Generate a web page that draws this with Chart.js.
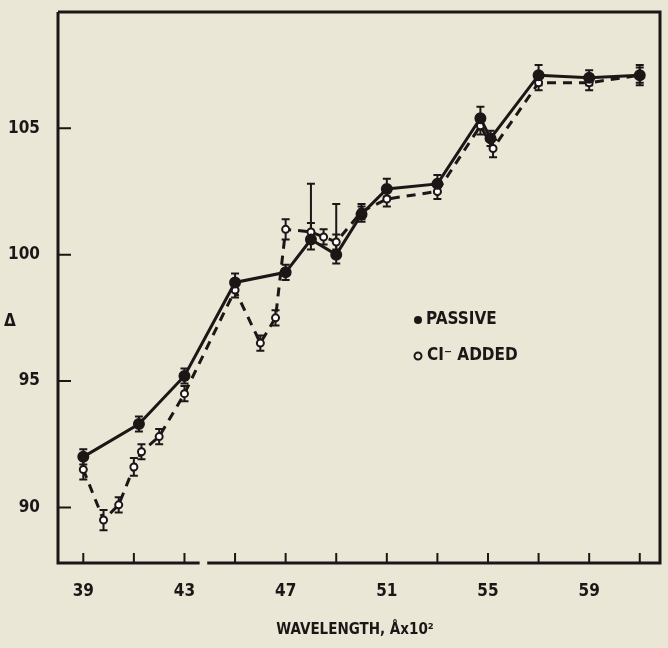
<!DOCTYPE html>
<html>
<head>
<meta charset="utf-8">
<script src="https://cdn.jsdelivr.net/npm/chart.js@4.4.1/dist/chart.umd.min.js"></script>
<style>
  html, body { margin: 0; padding: 0; background: #ebe7d6; }
  #wrap { width: 668px; height: 648px; }
</style>
</head>
<body>
<div id="wrap"><canvas id="grafico"></canvas></div>
<script>
// datos
const passiveX = [39, 41.2, 43, 45, 47, 48, 49, 50, 51, 53, 54.7, 55.1, 57, 59, 61];
const passiveY = [92.0, 93.3, 95.2, 98.9, 99.3, 100.6, 100.0, 101.6, 102.6, 102.8, 105.4, 104.6, 107.1, 107.0, 107.1];
const passiveErrUp = [0.3, 0.3, 0.3, 0.35, 0.3, 2.2, 2.0, 0.3, 0.4, 0.35, 0.45, 0.3, 0.4, 0.3, 0.4];
const passiveErrDown = [0.3, 0.3, 0.3, 0.35, 0.3, 0.4, 0.35, 0.3, 0.3, 0.35, 0.45, 0.3, 0.4, 0.3, 0.4];

const addedX = [39, 39.8, 40.4, 41, 41.3, 42, 43, 45, 46, 46.6, 47, 48, 48.5, 49, 50, 51, 53, 54.7, 55.2, 57, 59, 61];
const addedY = [91.5, 89.5, 90.1, 91.6, 92.2, 92.8, 94.5, 98.6, 96.5, 97.5, 101.0, 100.9, 100.7, 100.5, 101.7, 102.2, 102.5, 105.1, 104.2, 106.8, 106.8, 107.1];
const addedErr = [0.4, 0.4, 0.3, 0.35, 0.3, 0.3, 0.3, 0.3, 0.3, 0.3, 0.4, 0.35, 0.3, 0.3, 0.3, 0.3, 0.3, 0.35, 0.35, 0.3, 0.3, 0.3];

const xTicks = [39, 41, 43, 45, 47, 49, 51, 53, 55, 57, 59, 61];
const xTickLabels = ['39', '43', '47', '51', '55', '59'];
const yTicks = [90, 95, 100, 105];

const tinta = '#1c1616';
const fuente = '"Liberation Sans Narrow", "DejaVu Sans Condensed", sans-serif';

function puntos(xs, ys) {
    return xs.map((x, i) => ({ x: x, y: ys[i] }));
}

// barras de error, marco, ticks hacia adentro, leyenda y títulos
const marcoPlugin = {
    id: 'marco',
    beforeDatasetsDraw(chart) {
        const c = chart.ctx, sx = chart.scales.x, sy = chart.scales.y;
        c.save();
        c.strokeStyle = tinta;
        c.lineWidth = 2;
        const barra = (x, lo, hi) => {
            const px = sx.getPixelForValue(x);
            const p1 = sy.getPixelForValue(lo), p2 = sy.getPixelForValue(hi);
            c.beginPath();
            c.moveTo(px, p1); c.lineTo(px, p2);
            c.moveTo(px - 4, p1); c.lineTo(px + 4, p1);
            c.moveTo(px - 4, p2); c.lineTo(px + 4, p2);
            c.stroke();
        };
        passiveX.forEach((x, i) => barra(x, passiveY[i] - passiveErrDown[i], passiveY[i] + passiveErrUp[i]));
        addedX.forEach((x, i) => barra(x, addedY[i] - addedErr[i], addedY[i] + addedErr[i]));
        c.restore();
    },
    afterDraw(chart) {
        const c = chart.ctx, a = chart.chartArea, sx = chart.scales.x, sy = chart.scales.y;
        c.save();
        c.strokeStyle = tinta;
        c.lineWidth = 3;
        // marco (con el pequeño corte del eje inferior)
        const corteA = sx.getPixelForValue(43.6), corteB = sx.getPixelForValue(43.9);
        c.beginPath();
        c.moveTo(a.left, a.top); c.lineTo(a.right, a.top); c.lineTo(a.right, a.bottom);
        c.lineTo(corteB, a.bottom);
        c.moveTo(corteA, a.bottom); c.lineTo(a.left, a.bottom); c.lineTo(a.left, a.top);
        c.stroke();
        // ticks hacia adentro
        c.lineWidth = 2;
        c.beginPath();
        xTicks.forEach(v => {
            const px = sx.getPixelForValue(v);
            c.moveTo(px, a.bottom); c.lineTo(px, a.bottom - 10);
        });
        yTicks.forEach(v => {
            const py = sy.getPixelForValue(v);
            c.moveTo(a.left, py); c.lineTo(a.left + 13, py);
        });
        c.stroke();
        // leyenda
        c.fillStyle = tinta;
        c.font = 'bold 17px ' + fuente;
        c.textBaseline = 'middle';
        c.beginPath(); c.arc(418, 320, 4, 0, Math.PI * 2); c.fill();
        c.fillText('PASSIVE', 426, 320);
        c.beginPath(); c.arc(418, 356, 3.5, 0, Math.PI * 2);
        c.lineWidth = 2; c.stroke();
        c.fillText('CI\u207B ADDED', 427, 356);
        // títulos de ejes
        c.font = 'bold 17px ' + fuente;
        c.textAlign = 'center';
        c.fillText('\u0394', 10, 322);
        c.font = 'bold 15px ' + fuente;
        c.fillText('WAVELENGTH, \u00C5x10\u00B2', 355, 630);
        c.restore();
    }
};

const ctx = document.getElementById('grafico').getContext('2d');
let grafico = new Chart(ctx, {
    type: 'scatter',
    data: {
        datasets: [{
            label: 'PASSIVE',
            data: puntos(passiveX, passiveY),
            showLine: true,
            borderColor: tinta,
            borderWidth: 3,
            pointRadius: 4.5,
            pointBackgroundColor: tinta,
            pointBorderColor: tinta
        }, {
            label: 'CI- ADDED',
            data: puntos(addedX, addedY),
            showLine: true,
            borderColor: tinta,
            borderWidth: 3,
            borderDash: [9, 7],
            pointRadius: 3.5,
            pointBorderWidth: 2,
            pointBackgroundColor: '#ffffff',
            pointBorderColor: tinta
        }]
    },
    options: {
        responsive: true,
        maintainAspectRatio: false,
        animation: false,
        layout: { padding: { top: 12, right: 8, left: 0, bottom: 0 } },
        plugins: { legend: { display: false }, tooltip: { enabled: false } },
        scales: {
            x: {
                type: 'linear',
                min: 38,
                max: 61.8,
                grid: { display: false },
                border: { display: false },
                afterBuildTicks: s => { s.ticks = xTicks.map(v => ({ value: v })); },
                afterFit: s => { s.height = 85; s.paddingLeft = 0; s.paddingRight = 0; },
                ticks: {
                    autoSkip: false,
                    maxRotation: 0,
                    padding: 10,
                    color: tinta,
                    font: { family: fuente, weight: 'bold', size: 17 },
                    callback: v => xTickLabels.includes(String(v)) ? String(v) : ''
                }
            },
            y: {
                min: 87.8,
                max: 109.6,
                grid: { display: false },
                border: { display: false },
                afterBuildTicks: s => { s.ticks = yTicks.map(v => ({ value: v })); },
                afterFit: s => { s.width = 58; s.paddingTop = 0; s.paddingBottom = 0; },
                ticks: {
                    padding: 10,
                    color: tinta,
                    font: { family: fuente, weight: 'bold', size: 17 }
                }
            }
        }
    },
    plugins: [marcoPlugin]
});
</script>
</body>
</html>
